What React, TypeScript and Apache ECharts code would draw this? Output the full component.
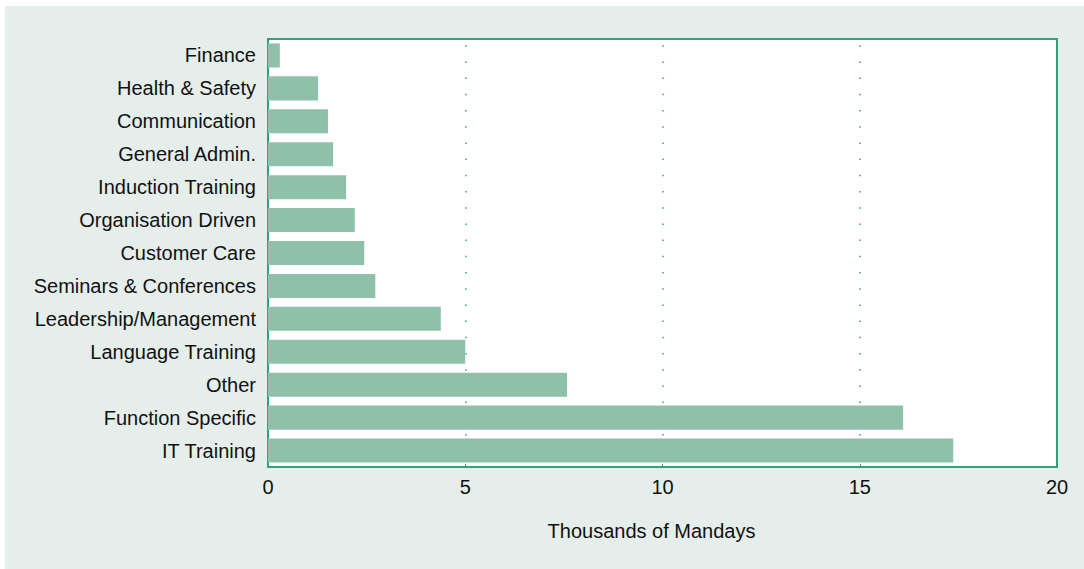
import React, { useEffect, useRef } from "react";
import * as echarts from "echarts";

// Training categories, top to bottom
const categories: string[] = [
  "Finance",
  "Health & Safety",
  "Communication",
  "General Admin.",
  "Induction Training",
  "Organisation Driven",
  "Customer Care",
  "Seminars & Conferences",
  "Leadership/Management",
  "Language Training",
  "Other",
  "Function Specific",
  "IT Training",
];

// Thousands of mandays per category
const mandays: number[] = [
  0.3, 1.27, 1.52, 1.65, 1.98, 2.2, 2.44, 2.72, 4.38, 5.0, 7.58, 16.1, 17.37,
];

const xTicks = { min: 0, max: 20, interval: 5 };
const axisTitle = "Thousands of Mandays";

const FONT = "Arial, 'Liberation Sans', Helvetica, sans-serif";
const TEAL = "#34a07f";
const BAR = "#8fc0aa";
const PANEL = "#e6eeeb";

export default function App() {
  const ref = useRef<HTMLDivElement>(null);

  useEffect(() => {
    if (!ref.current) return;
    const chart = echarts.init(ref.current, null, { renderer: "svg" });
    chart.setOption({
      animation: false,
      backgroundColor: PANEL,
      textStyle: { fontFamily: FONT },
      grid: {
        left: 263,
        top: 33,
        right: 27,
        bottom: 102,
        show: true,
        backgroundColor: "#ffffff",
        borderColor: TEAL,
        borderWidth: 2,
      },
      xAxis: {
        type: "value",
        min: xTicks.min,
        max: xTicks.max,
        interval: xTicks.interval,
        name: axisTitle,
        nameLocation: "middle",
        nameGap: 54,
        nameTextStyle: {
          color: "#111111",
          fontSize: 20,
          fontFamily: FONT,
          padding: [0, 22, 0, 0],
        },
        axisLine: { show: true, lineStyle: { color: TEAL, width: 2 } },
        axisTick: {
          show: true,
          inside: true,
          length: 3,
          lineStyle: { color: TEAL, width: 1 },
        },
        axisLabel: {
          color: "#111111",
          fontSize: 20,
          fontFamily: FONT,
          margin: 10,
        },
        splitLine: {
          show: true,
          lineStyle: {
            color: TEAL,
            width: 1.5,
            type: [1.5, 14.7],
            dashOffset: 10,
          },
        },
      },
      yAxis: {
        type: "category",
        data: categories,
        inverse: true,
        axisLine: { show: true, lineStyle: { color: TEAL, width: 2 } },
        axisTick: { show: false },
        axisLabel: {
          color: "#111111",
          fontSize: 20,
          fontFamily: FONT,
          margin: 12,
        },
        splitLine: { show: false },
      },
      series: [
        {
          type: "bar",
          data: mandays,
          barCategoryGap: "27%",
          itemStyle: { color: BAR },
          silent: true,
        },
      ],
    });
    return () => chart.dispose();
  }, []);

  return (
    <div
      style={{
        position: "absolute",
        left: 5,
        top: 6,
        width: 1079,
        height: 563,
        background: PANEL,
      }}
    >
      <div ref={ref} style={{ width: 1079, height: 563 }} />
    </div>
  );
}
